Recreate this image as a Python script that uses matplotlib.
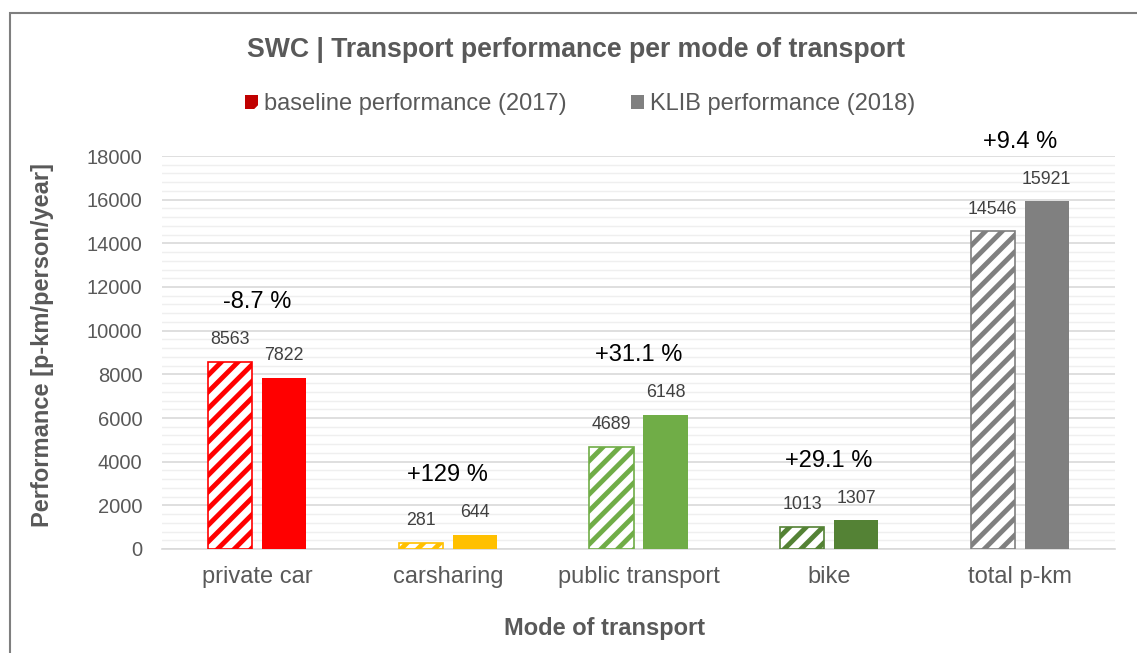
import matplotlib
matplotlib.use("Agg")
import matplotlib.pyplot as plt
from matplotlib.patches import Patch, Rectangle
from matplotlib.ticker import MultipleLocator
import numpy as np

categories = ["private car", "carsharing", "public transport", "bike", "total p-km"]
baseline_2017 = [8563, 281, 4689, 1013, 14546]
klib_2018 = [7822, 644, 6148, 1307, 15921]
change_labels = ["-8.7 %", "+129 %", "+31.1 %", "+29.1 %", "+9.4 %"]
mode_colors = ["#FF0000", "#FFC000", "#70AD47", "#548235", "#808080"]
legend_labels = ["baseline performance (2017)", "KLIB performance (2018)"]

plt.rcParams["font.family"] = ["Liberation Sans", "DejaVu Sans"]
plt.rcParams["hatch.linewidth"] = 3.5

W, H = 1137, 653
dpi = 100
fig = plt.figure(figsize=(W / dpi, H / dpi), dpi=dpi)

def px(x0, y0):
    return x0 / W, 1 - y0 / H

# outer frame
fig.patches.append(Rectangle((10 / W, -0.1), 2, 1 - 13 / H + 0.1, transform=fig.transFigure,
                             fill=False, edgecolor="#7F7F7F", linewidth=1.5))

left, right, top, bottom = 162, 1115, 156, 549
ax = fig.add_axes([left / W, 1 - bottom / H, (right - left) / W, (bottom - top) / H])

x = np.arange(len(categories))
bw = 0.232
off = 0.142
grey = "#595959"

for i in range(len(categories)):
    ax.bar(x[i] - off, baseline_2017[i], bw, facecolor="white", edgecolor=mode_colors[i],
           hatch="//", linewidth=1.2, zorder=3)
    ax.bar(x[i] + off, klib_2018[i], bw, color=mode_colors[i], linewidth=0, zorder=3)
    ax.annotate(str(baseline_2017[i]), (x[i] - off, baseline_2017[i]), xytext=(0, 10),
                textcoords="offset points", ha="center", va="bottom", fontsize=12.8, color="#404040")
    ax.annotate(str(klib_2018[i]), (x[i] + off, klib_2018[i]), xytext=(0, 10),
                textcoords="offset points", ha="center", va="bottom", fontsize=12.8, color="#404040")
    ax.annotate(change_labels[i], (x[i], max(baseline_2017[i], klib_2018[i])), xytext=(0, 43),
                textcoords="offset points", ha="center", va="center", fontsize=17, color="black",
                annotation_clip=False)

ax.set_xlim(-0.5, len(categories) - 0.5)
ax.set_ylim(0, 18000)
ax.yaxis.set_major_locator(MultipleLocator(2000))
ax.yaxis.set_minor_locator(MultipleLocator(400))
ax.grid(axis="y", which="major", color="#D9D9D9", linewidth=1.2, zorder=0)
ax.grid(axis="y", which="minor", color="#EFEFEF", linewidth=1.0, zorder=0)
ax.set_axisbelow(True)
for s in ["top", "right", "left"]:
    ax.spines[s].set_visible(False)
ax.spines["bottom"].set_color("#D9D9D9")
ax.spines["bottom"].set_linewidth(1.2)
ax.tick_params(axis="both", which="both", length=0)
ax.tick_params(axis="y", labelsize=14.5, labelcolor=grey, pad=14)
ax.tick_params(axis="x", labelsize=17, labelcolor=grey, pad=12)
ax.set_xticks(x)
ax.set_xticklabels(categories)

fig.text(*px(43, 345), "Performance [p-km/person/year]", ha="center", va="center",
         rotation=90, fontsize=17, fontweight="bold", color=grey)
fig.text(*px(605, 628), "Mode of transport", ha="center", va="center", fontsize=17,
         fontweight="bold", color=grey)
fig.text(*px(576, 50), "SWC | Transport performance per mode of transport", ha="center",
         va="center", fontsize=19.2, fontweight="bold", color=grey)

handles = [Patch(facecolor="#C00000", edgecolor="white", hatch="/", linewidth=0),
           Patch(facecolor="#808080", edgecolor="#808080", linewidth=0)]
fig.legend(handles, legend_labels,
           loc="center", bbox_to_anchor=px(580, 104), ncol=2, frameon=False,
           fontsize=17, labelcolor=grey, handlelength=0.55, handleheight=0.55,
           handletextpad=0.25, columnspacing=2.75)

fig.savefig("out.png", dpi=dpi, facecolor="white")
